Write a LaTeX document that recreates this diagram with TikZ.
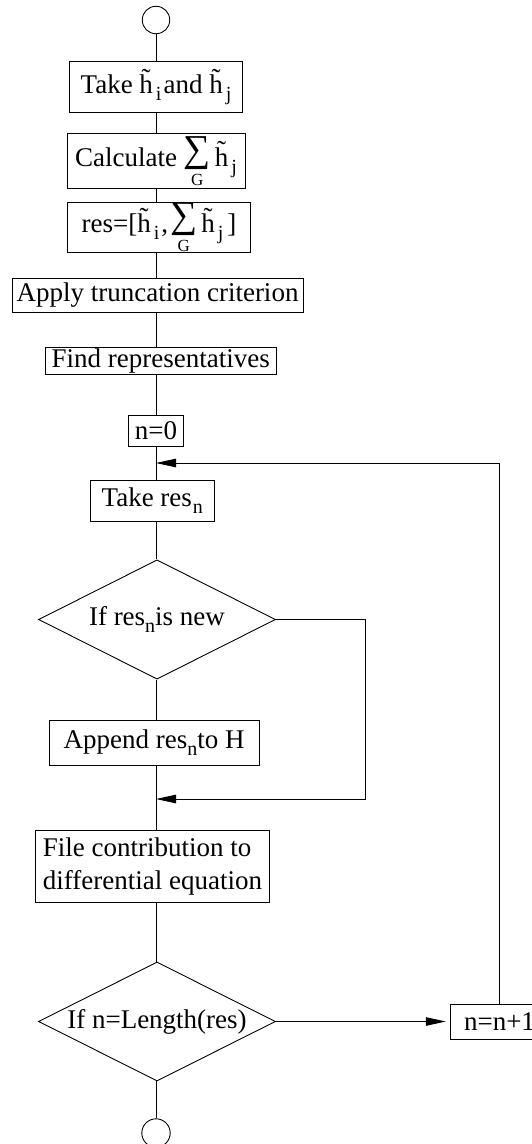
\documentclass[tikz,border=0pt]{standalone}
\usepackage{fontspec}
\setmainfont{Liberation Serif}
\usetikzlibrary{shapes.geometric,arrows.meta}

% lowered subscript in roman type
\newcommand\sbs[1]{\raisebox{-7pt}{\fontsize{20}{20}\selectfont #1}}
% summation sign with a small G set beneath it
\newsavebox\sgbox
\newcommand\sumG{\sbox\sgbox{\raisebox{5pt}{\fontsize{38}{38}\selectfont ∑}}\usebox\sgbox\kern-\wd\sgbox
  \makebox[\wd\sgbox]{\raisebox{-19pt}{\fontsize{17}{17}\selectfont G}}}
% h with tilde
\newcommand\htil{\~{h}}

\begin{document}
\begin{tikzpicture}[x=1pt,y=-1pt,
  line width=0.9pt,
  every node/.style={font=\fontsize{27}{33}\selectfont, inner sep=0pt},
  stepbox/.style={draw, rectangle, align=center},
  decision/.style={draw, diamond, aspect=2, align=center},
  terminal/.style={draw, circle, minimum size=27.5pt},
  flowarrow/.style={-{Triangle[length=20pt,width=8.5pt]}}]

\useasboundingbox (0,0) rectangle (531,1144);
\coordinate (spine) at (156,0);

\node[terminal] (start) at (156,20) {};

\node[stepbox, minimum width=173pt, minimum height=51pt] (takeh) at (156,87)
  {Take \htil\kern3pt\sbs{i}\kern2pt and \htil\kern3pt\sbs{j}};
\node[stepbox, minimum width=178pt, minimum height=55pt] (calc) at (156,160.8)
  {Calculate \sumG\kern4pt\htil\kern3pt\sbs{j}};
\node[stepbox, minimum width=183pt, minimum height=50.5pt] (res) at (159,227.3)
  {res=[\htil\kern3pt\sbs{i}\kern2pt,\kern2pt\sumG\kern4pt\htil\kern3pt\sbs{j}\kern4pt]};
\node[stepbox, minimum width=291pt, minimum height=34pt] (trunc) at (157.5,295)
  {Apply truncation criterion};
\node[stepbox, minimum width=231pt, minimum height=27pt] (repr) at (160.7,360.5)
  {Find representatives};
\node[stepbox, minimum width=55.4pt, minimum height=31pt] (nzero) at (156,430.5)
  {n=0};
\node[stepbox, minimum width=124pt, minimum height=41.4pt] (taker) at (152.3,501)
  {Take res\kern1pt\sbs{n}};
\node[decision, minimum width=237pt, minimum height=119.3pt] (isnew) at (157,619.5)
  {If res\sbs{n}is new};
\node[stepbox, minimum width=209.7pt, minimum height=44.3pt] (append) at (154.2,742.9)
  {Append res\sbs{n}to H};
\node[stepbox, align=left, minimum width=233.6pt, minimum height=72pt] (file) at (152.5,866.7)
  {File contribution to\\differential equation};
\node[decision, minimum width=237pt, minimum height=119pt] (islast) at (157,1021.5)
  {If n=Length(res)};
\node[stepbox, minimum width=98.6pt, minimum height=35pt] (incr) at (499.5,1021.5)
  {n=n+1};

\node[terminal, minimum size=28.4pt] (stop) at (156,1133) {};

% main vertical flow
\foreach \a/\b in {start/takeh,takeh/calc,calc/res,res/trunc,trunc/repr,
                   repr/nzero,nzero/taker,taker/isnew,isnew/append,
                   append/file,file/islast,islast/stop}
  \draw (\a.south -| spine) -- (\b.north -| spine);

% bypass when the result is not new
\coordinate (skip) at (365,799);
\draw[flowarrow] (isnew.east) -| (skip) -- (skip -| spine);

% loop counter branch and return
\draw[flowarrow, shorten >=4pt] (islast.east) -- (incr.west);
\coordinate (back) at (499.5,463);
\draw[flowarrow] (incr.north) -- (back) -- (back -| spine);

\end{tikzpicture}
\end{document}
